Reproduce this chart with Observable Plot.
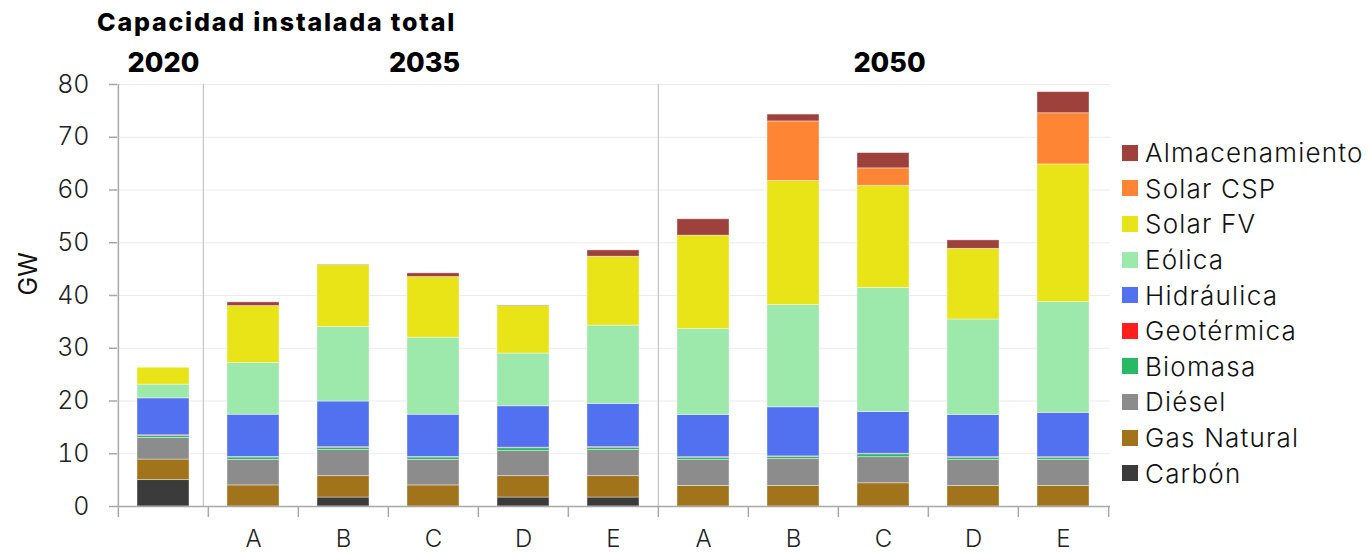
<!DOCTYPE html>
<html>
<head>
<meta charset="utf-8">
<script src="https://cdn.jsdelivr.net/npm/d3@7"></script>
<script src="https://cdn.jsdelivr.net/npm/@observablehq/plot@0.6"></script>
<style>
  html, body { margin: 0; padding: 0; background: #fff; }
  #wrap { position: relative; width: 1370px; height: 553px; font-family: Inter, "Noto Sans", sans-serif; }
  #title { position: absolute; left: 97px; top: 7px; font-size: 25px; font-weight: 800; color: #000; white-space: nowrap; letter-spacing: 1.8px; }
  #legend { position: absolute; left: 1122px; top: 135px; }
  .item { display: flex; align-items: center; height: 35.6px; font-size: 26px; font-weight: 300; color: #111; white-space: nowrap; letter-spacing: 1.2px; }
  .sw { width: 16px; height: 16px; margin-right: 7px; flex: none; }
</style>
</head>
<body>
<div id="wrap">
  <div id="chart"></div>
  <div id="title">Capacidad instalada total</div>
  <div id="legend"></div>
</div>
<script>
// Categories (bars), left to right
const categories = ["2020", "2035 A", "2035 B", "2035 C", "2035 D", "2035 E", "2050 A", "2050 B", "2050 C", "2050 D", "2050 E"];
const tickLabels = ["", "A", "B", "C", "D", "E", "A", "B", "C", "D", "E"];
const groupCats = ["2020", "2035 C", "2050 C"];
const groupLabels = ["2020", "2035", "2050"];

// Series (bottom to top in the stack), values in GW
const series = ["Carbón", "Gas Natural", "Diésel", "Biomasa", "Geotérmica", "Hidráulica", "Eólica", "Solar FV", "Solar CSP", "Almacenamiento"];
const colors = ["#3b3b3b", "#a1731b", "#8c8c8c", "#27b966", "#ff1f1f", "#5271f0", "#9de8ab", "#e8e418", "#fe8533", "#9e413c"];

const carbon         = [5.0, 0,    1.7,  0,    1.7,  1.7,  0,    0,    0,    0,    0];
const gasNatural     = [3.9, 4.0,  4.05, 4.0,  4.05, 4.05, 3.9,  3.9,  4.4,  3.9,  3.9];
const diesel         = [4.1, 4.85, 4.95, 4.85, 4.75, 4.95, 4.9,  5.1,  4.95, 4.9,  4.95];
const biomasa        = [0.4, 0.45, 0.45, 0.45, 0.55, 0.45, 0.45, 0.4,  0.55, 0.45, 0.4];
const geotermica     = [0.1, 0.1,  0.1,  0.1,  0.1,  0.1,  0.1,  0.1,  0.1,  0.1,  0.1];
const hidraulica     = [7.0, 8.0,  8.65, 8.0,  7.85, 8.2,  8.0,  9.3,  7.9,  8.0,  8.4];
const eolica         = [2.6, 9.8,  14.15,14.6, 10.0, 14.85,16.3, 19.4, 23.55,18.1, 21.0];
const solarFV        = [3.2, 10.8, 11.7, 11.5, 9.0,  13.05,17.7, 23.5, 19.35,13.4, 26.1];
const solarCSP       = [0,   0,    0,    0,    0,    0,    0,    11.3, 3.3,  0,    9.7];
const almacenamiento = [0,   0.7,  0.1,  0.7,  0.1,  1.2,  3.1,  1.3,  2.9,  1.6,  4.0];

const yTicks = [0, 10, 20, 30, 40, 50, 60, 70, 80];

const seriesValues = [carbon, gasNatural, diesel, biomasa, geotermica, hidraulica, eolica, solarFV, solarCSP, almacenamiento];
const data = [];
categories.forEach((c, i) => {
  series.forEach((s, j) => data.push({cat: c, fuente: s, value: seriesValues[j][i]}));
});

const W = 1370, H = 553, mL = 117, mR = 260, mT = 84, mB = 47;
const step = (W - mL - mR) / categories.length;
const tickMap = new Map(categories.map((c, i) => [c, tickLabels[i]]));
const groupShift = [0, -9, 6];
const groupMarks = groupCats.map((c, i) =>
  Plot.text([c], {x: (d) => d, y: () => 80, text: () => groupLabels[i], dx: groupShift[i], dy: -21, fontSize: 27, fontWeight: 800, fill: "#000"})
);

const chart = Plot.plot({
  width: W, height: H,
  marginLeft: mL, marginRight: mR, marginTop: mT, marginBottom: mB,
  style: {fontFamily: "Inter, 'Noto Sans', sans-serif", background: "#fff", overflow: "visible"},
  x: {domain: categories, paddingInner: 0.42, paddingOuter: 0.21, label: null, axis: null},
  y: {domain: [0, 80], label: null, axis: null},
  color: {domain: series, range: colors},
  marks: [
    Plot.gridY(yTicks, {stroke: "#ebebeb", strokeOpacity: 1}),
    Plot.ruleX(["2035 A"], {y1: 0, y2: 80, dx: -step / 2 - 5, stroke: "#c4c4c4", strokeWidth: 1.2}),
    Plot.ruleX(["2050 A"], {y1: 0, y2: 80, dx: -step / 2, stroke: "#c4c4c4", strokeWidth: 1.2}),
    Plot.barY(data, {x: "cat", y: "value", fill: "fuente", stroke: "white", strokeOpacity: 0.5, strokeWidth: 0.8}),
    Plot.ruleY([0], {stroke: "#a8a8a8", strokeWidth: 1.5}),
    Plot.ruleX(["2020"], {y1: 0, y2: 80, dx: -step / 2, stroke: "#a8a8a8", strokeWidth: 1.5}),
    Plot.ruleX(categories, {y1: 0, y2: 0, insetBottom: -11, dx: -step / 2, stroke: "#a8a8a8", strokeWidth: 1.5}),
    Plot.ruleX([categories[categories.length - 1]], {y1: 0, y2: 0, insetBottom: -11, dx: step / 2, stroke: "#a8a8a8", strokeWidth: 1.5}),
    Plot.axisY({ticks: yTicks, tickSize: 8, tickPadding: 20, fontSize: 25, fontWeight: 300, stroke: "#a8a8a8", strokeWidth: 1.5, color: "#222", label: null}),
    Plot.axisX({tickSize: 0, tickPadding: 23, fontSize: 24, fontWeight: 300, color: "#222", tickFormat: (d) => tickMap.get(d), label: null}),
    Plot.text(["GW"], {frameAnchor: "left", dx: -89, rotate: -90, fontSize: 25, fill: "#111"}),
    ...groupMarks
  ]
});
document.getElementById("chart").appendChild(chart);

const legend = document.getElementById("legend");
series.slice().reverse().forEach((s) => {
  const row = document.createElement("div");
  row.className = "item";
  const sw = document.createElement("span");
  sw.className = "sw";
  sw.style.background = colors[series.indexOf(s)];
  const t = document.createElement("span");
  t.textContent = s;
  row.appendChild(sw); row.appendChild(t);
  legend.appendChild(row);
});
</script>
</body>
</html>
